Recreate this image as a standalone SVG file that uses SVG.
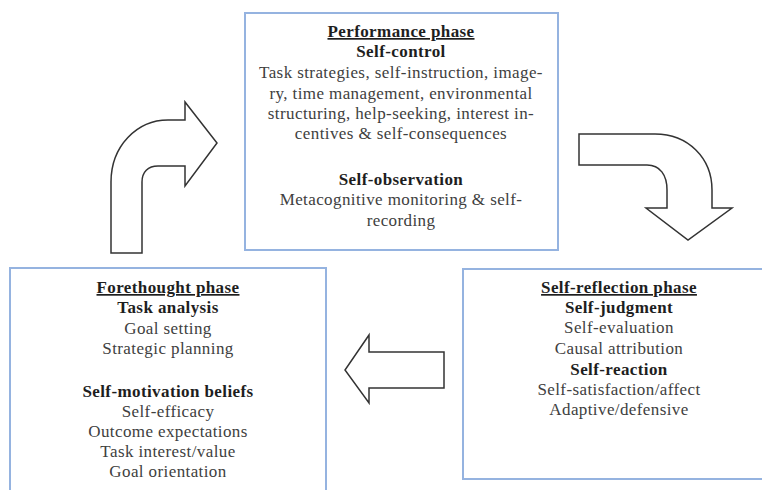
<svg xmlns="http://www.w3.org/2000/svg" width="762" height="490" viewBox="0 0 762 490">
<style>
.box{fill:#fff;stroke:#95b3e0;stroke-width:2}
.arr{fill:#fff;stroke:#333;stroke-width:1.5;stroke-linejoin:miter}
.t{font-size:17px;text-anchor:middle;fill:#404040;letter-spacing:0.4px}
.h{font-weight:bold;fill:#1e1e1e;text-decoration:underline}
.b{font-weight:bold;fill:#1e1e1e}
</style>
<rect width="762" height="490" fill="#fff"/>
<g id="performance">
<rect class="box" x="245" y="13" width="313" height="237"/>
<text class="t h" font-family="Liberation Serif" x="401" y="37">Performance phase</text>
<text class="t b" font-family="Liberation Serif" x="401" y="57">Self-control</text>
<text class="t" font-family="Liberation Serif" x="401" y="78">Task strategies, self-instruction, image-</text>
<text class="t" font-family="Liberation Serif" x="401" y="99">ry, time management, environmental</text>
<text class="t" font-family="Liberation Serif" x="401" y="119">structuring, help-seeking, interest in-</text>
<text class="t" font-family="Liberation Serif" x="401" y="139">centives &amp; self-consequences</text>
<text class="t b" font-family="Liberation Serif" x="401" y="185">Self-observation</text>
<text class="t" font-family="Liberation Serif" x="401" y="205">Metacognitive monitoring &amp; self-</text>
<text class="t" font-family="Liberation Serif" x="401" y="226">recording</text>
</g>
<g id="forethought">
<rect class="box" x="10" y="268" width="316" height="240"/>
<text class="t h" font-family="Liberation Serif" x="168" y="293">Forethought phase</text>
<text class="t b" font-family="Liberation Serif" x="168" y="313">Task analysis</text>
<text class="t" font-family="Liberation Serif" x="168" y="334">Goal setting</text>
<text class="t" font-family="Liberation Serif" x="168" y="354">Strategic planning</text>
<text class="t b" font-family="Liberation Serif" x="168" y="397">Self-motivation beliefs</text>
<text class="t" font-family="Liberation Serif" x="168" y="417">Self-efficacy</text>
<text class="t" font-family="Liberation Serif" x="168" y="437">Outcome expectations</text>
<text class="t" font-family="Liberation Serif" x="168" y="457">Task interest/value</text>
<text class="t" font-family="Liberation Serif" x="168" y="477">Goal orientation</text>
</g>
<g id="selfreflection">
<rect class="box" x="463" y="269" width="310" height="210"/>
<text class="t h" font-family="Liberation Serif" x="619" y="293">Self-reflection phase</text>
<text class="t b" font-family="Liberation Serif" x="619" y="313">Self-judgment</text>
<text class="t" font-family="Liberation Serif" x="619" y="333">Self-evaluation</text>
<text class="t" font-family="Liberation Serif" x="619" y="354">Causal attribution</text>
<text class="t b" font-family="Liberation Serif" x="619" y="375">Self-reaction</text>
<text class="t" font-family="Liberation Serif" x="619" y="395">Self-satisfaction/affect</text>
<text class="t" font-family="Liberation Serif" x="619" y="415">Adaptive/defensive</text>
</g>
<g id="connectors">
<path class="arr" d="M111,253 L111,182 C111,146 137,120 168,120 L185,120 L185,102 L217,143 L185,186 L185,166 L158,166 C148,166 142,172 142,182 L142,253 Z"/>
<path class="arr" d="M579,134 L655,134 C688,134 712,158 712,190 L712,208 L732,208 L688,240 L646,208 L667,208 L667,190 C667,175 660,165 647,165 L579,165 Z"/>
<path class="arr" d="M444,352 L369,352 L369,335 L345,370 L369,403 L369,388 L444,388 Z"/>
</g>
</svg>
